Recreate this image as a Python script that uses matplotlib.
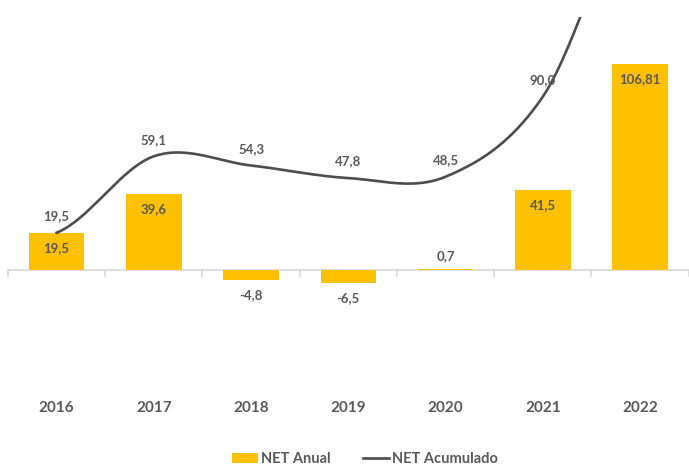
import numpy as np
import matplotlib.pyplot as plt
from matplotlib.lines import Line2D
from matplotlib.patches import Patch

years = ['2016', '2017', '2018', '2019', '2020', '2021', '2022']
net_anual = [19.5, 39.6, -4.8, -6.5, 0.7, 41.5, 106.81]
net_acumulado = [19.5, 59.1, 54.3, 47.8, 48.5, 90.0, 196.81]

BAR_COLOR = '#FFC000'
LINE_COLOR = '#4D4D4D'
TEXT_COLOR = '#595959'
FONT = ['Lato', 'DejaVu Sans']

plt.rcParams['font.family'] = FONT


def fmt(v):
    # Comma decimals as in the source
    s = f'{v:.2f}' if abs(v * 10 - round(v * 10)) > 1e-6 else f'{v:.1f}'
    return s.replace('.', ',')


def smooth(xs, ys, n=40):
    # Catmull-Rom style smoothing similar to spreadsheet smoothed lines
    xs = np.asarray(xs, float)
    ys = np.asarray(ys, float)
    px = np.concatenate([[2 * xs[0] - xs[1]], xs, [2 * xs[-1] - xs[-2]]])
    py = np.concatenate([[ys[0]], ys, [ys[-1]]])
    out_x, out_y = [], []
    for i in range(1, len(px) - 2):
        p0, p1, p2, p3 = (np.array([px[j], py[j]]) for j in range(i - 1, i + 3))
        c1 = p1 + (p2 - p0) / 6
        c2 = p2 - (p3 - p1) / 6
        t = np.linspace(0, 1, n)[:, None]
        b = ((1 - t) ** 3) * p1 + 3 * ((1 - t) ** 2) * t * c1 + 3 * (1 - t) * t ** 2 * c2 + t ** 3 * p2
        out_x.extend(b[:, 0])
        out_y.extend(b[:, 1])
    return np.array(out_x), np.array(out_y)


fig = plt.figure(figsize=(6.89, 4.71), dpi=100)
ax = fig.add_axes([0.0116, 0.18, 0.988, 0.783])

x = np.arange(len(years))
ax.bar(x, net_anual, width=0.57, color=BAR_COLOR, zorder=2)

sx, sy = smooth(x, net_acumulado)
ax.plot(sx, sy, color=LINE_COLOR, lw=1.9, zorder=3)

ax.set_xlim(-0.5, len(years) - 0.5)
ax.set_ylim(-60, 131)

# bar labels
for xi, v in zip(x, net_anual):
    if v > 5:
        off = -11
    elif v >= 0:
        off = 9
    else:
        off = -11
    ax.annotate(fmt(v), (xi, v), xytext=(0, off), textcoords='offset points',
                ha='center', va='center', fontsize=9.5, fontweight='bold',
                color=TEXT_COLOR, zorder=4)

# line labels (the last point runs off the top)
for xi, v in zip(x, net_acumulado):
    if v < 131:
        ax.annotate(fmt(v), (xi, v), xytext=(0, 12), textcoords='offset points',
                    ha='center', va='center', fontsize=9.5, fontweight='bold',
                    color=TEXT_COLOR, zorder=4)

# zero axis with boundary ticks
ax.axhline(0, color='#D9D9D9', lw=1.2, zorder=1)
for b in np.arange(-0.5, len(years), 1.0):
    ax.plot([b, b], [0, -2.8], color='#D9D9D9', lw=1.2, zorder=1, clip_on=False)

for s in ax.spines.values():
    s.set_visible(False)
ax.set_yticks([])
ax.set_xticks(x)
ax.set_xticklabels(years, fontsize=11, fontweight='bold', color=TEXT_COLOR)
ax.tick_params(axis='x', length=0, pad=11)

handles = [Patch(facecolor=BAR_COLOR, edgecolor='none'),
           Line2D([0], [0], color=LINE_COLOR, lw=1.9)]
fig.legend(handles, ['NET Anual', 'NET Acumulado'], loc='center',
           bbox_to_anchor=(0.53, 0.025), ncol=2, frameon=False,
           prop={'family': FONT, 'weight': 'bold', 'size': 10.5},
           labelcolor=TEXT_COLOR, handlelength=1.8, handletextpad=0.2,
           columnspacing=2.2, handleheight=0.7)

fig.savefig('out.png', dpi=100)
